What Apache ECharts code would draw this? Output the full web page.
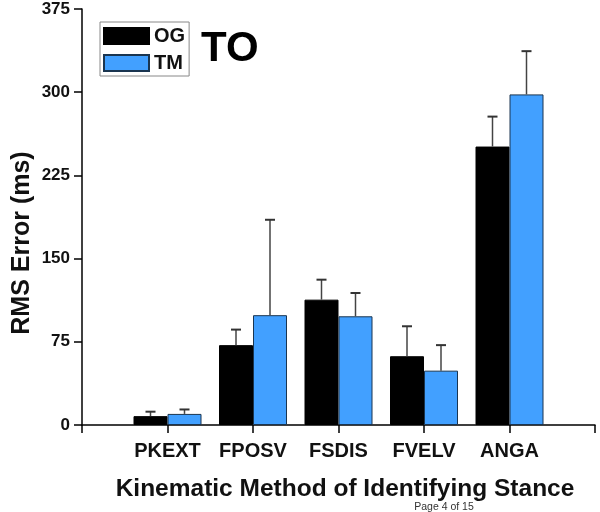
<!DOCTYPE html>
<html><head><meta charset="utf-8">
<script src="https://cdn.jsdelivr.net/npm/echarts@6/dist/echarts.min.js"></script>
<style>html,body{margin:0;padding:0;background:#fff}#c{width:600px;height:512px}</style>
</head><body><div id="c"></div>
<script>
var categories = ['PKEXT', 'FPOSV', 'FSDIS', 'FVELV', 'ANGA'];
var ogValues = [8, 72, 113, 62, 251];
var ogErrors = [4, 14, 18, 27, 27];
var tmValues = [10, 99, 98, 49, 298];
var tmErrors = [4, 86, 21, 23, 39];
var yTicks = [0, 75, 150, 225, 300, 375];

var axisCats = [''].concat(categories, ['']);
function pad(a) { return ['-'].concat(a, ['-']); }
function errData(v, e) { return v.map(function (x, i) { return [i + 1, x, x + e[i]]; }); }

var chart = echarts.init(document.getElementById('c'));
var FONT = 'Liberation Sans, Arial, sans-serif';
var BW = 34;

function errRender(offset) {
  return function (params, api) {
    var base = api.coord([api.value(0), api.value(1)]);
    var top = api.coord([api.value(0), api.value(2)]);
    var x = base[0] + offset;
    var st = { stroke: '#444', lineWidth: 1.5 };
    return { type: 'group', children: [
      { type: 'line', shape: { x1: x, y1: base[1], x2: x, y2: top[1] }, style: st },
      { type: 'line', shape: { x1: x - 5, y1: top[1], x2: x + 5, y2: top[1] }, style: { stroke: '#333', lineWidth: 2 } }
    ]};
  };
}

chart.setOption({
  animation: false,
  backgroundColor: '#fff',
  grid: { left: 82, right: 5, top: 9, bottom: 87, containLabel: false },
  legend: {
    left: 100, top: 22, orient: 'vertical', itemWidth: 45, itemHeight: 16, itemGap: 7,
    padding: [4, 4, 3, 3], borderColor: '#888', borderWidth: 1,
    textStyle: { fontFamily: FONT, fontWeight: 'bold', fontSize: 20, color: '#111' },
    data: [{ name: 'OG', icon: 'rect' }, { name: 'TM', icon: 'rect' }]
  },
  xAxis: {
    type: 'category', data: axisCats, boundaryGap: false,
    axisLine: { lineStyle: { color: '#000', width: 1.5 } },
    axisTick: { inside: false, length: 8, lineStyle: { color: '#000', width: 1.5 } },
    axisLabel: { interval: 0, margin: 16, fontFamily: FONT, fontWeight: 'bold', fontSize: 20, color: '#111' },
    splitLine: { show: false }
  },
  yAxis: {
    type: 'value', min: 0, max: 375, interval: 75,
    axisLine: { show: true, lineStyle: { color: '#000', width: 1.5 } },
    axisTick: { show: true, length: 8, lineStyle: { color: '#000', width: 1.5 } },
    axisLabel: { margin: 12, fontFamily: FONT, fontWeight: 'bold', fontSize: 17, color: '#111',
      formatter: function (v) { return yTicks.indexOf(v) >= 0 ? String(v) : ''; } },
    splitLine: { show: false }
  },
  graphic: [
    { type: 'text', left: 201, top: 28, style: { text: 'TO', fontFamily: FONT, fontWeight: 'bold', fontSize: 42, fill: '#000' } },
    { type: 'text', x: 22, y: 243, rotation: Math.PI / 2,
      style: { text: 'RMS Error (ms)', fontFamily: FONT, fontWeight: 'bold', fontSize: 25, fill: '#111', align: 'center', verticalAlign: 'middle' } },
    { type: 'text', x: 345, y: 489,
      style: { text: 'Kinematic Method of Identifying Stance', fontFamily: FONT, fontWeight: 'bold', fontSize: 24.5, fill: '#111', align: 'center', verticalAlign: 'middle' } },
    { type: 'text', x: 444, y: 507,
      style: { text: 'Page 4 of 15', fontFamily: FONT, fontSize: 10.5, fill: '#333', align: 'center', verticalAlign: 'middle' } }
  ],
  series: [
    { name: 'OG', type: 'bar', data: pad(ogValues), barWidth: BW, barGap: '0%',
      itemStyle: { color: '#000', borderColor: '#000', borderWidth: 1 } },
    { name: 'TM', type: 'bar', data: pad(tmValues), barWidth: BW, barGap: '0%',
      itemStyle: { color: '#42a0ff', borderColor: '#1a3550', borderWidth: 1 } },
    { name: 'OGerr', type: 'custom', data: errData(ogValues, ogErrors), renderItem: errRender(-BW / 2), z: 5, encode: { x: 0, y: [1, 2] } },
    { name: 'TMerr', type: 'custom', data: errData(tmValues, tmErrors), renderItem: errRender(BW / 2), z: 5, encode: { x: 0, y: [1, 2] } }
  ]
});
</script></body></html>
